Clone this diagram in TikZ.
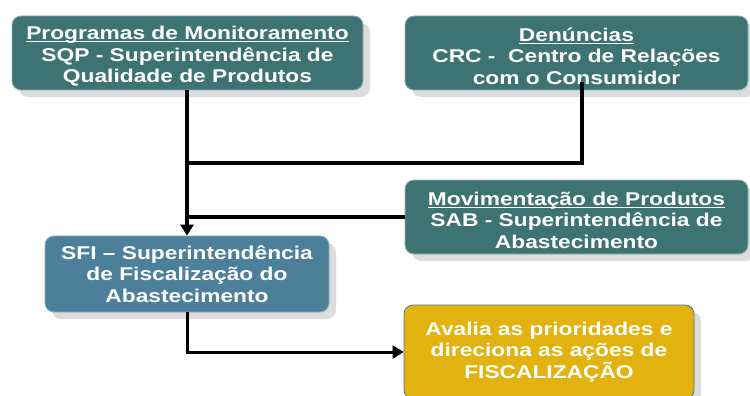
\documentclass[tikz,border=0pt]{standalone}
\usepackage{fontspec}
\setmainfont[FakeStretch=1.23]{Liberation Sans}
\usetikzlibrary{shadows,arrows.meta}
\definecolor{tealbox}{HTML}{3E7373}
\definecolor{tealedge}{HTML}{8DB3B3}
\definecolor{bluebox}{HTML}{4C7F99}
\definecolor{blueedge}{HTML}{86AFC2}
\definecolor{yelbox}{HTML}{E2B30F}
\definecolor{yeledge}{HTML}{4F7A86}
\definecolor{shadowgray}{HTML}{DCDCDC}
\newsavebox{\myulbox}
\newcommand{\myul}[1]{\rule{0pt}{20pt}\sbox{\myulbox}{#1}\smash{\rlap{\rule[-2.2pt]{\wd\myulbox}{0.9pt}}}\usebox{\myulbox}}
\tikzset{
  box/.style={rectangle, rounded corners=9pt, text=white, align=center,
    font=\fontsize{18.5}{21.7}\selectfont\bfseries, inner sep=0pt,
    line width=0.8pt,
    drop shadow={shadow xshift=7pt, shadow yshift=-7pt, fill=shadowgray, opacity=1}},
  tealnode/.style={box, fill=tealbox, draw=tealedge},
  bluenode/.style={box, fill=bluebox, draw=blueedge},
  yelnode/.style={box, fill=yelbox, draw=yeledge},
  conn/.style={line width=3.4pt, black},
  tip/.style={-{Triangle[length=11pt,width=13pt]}}
}
\begin{document}
\begin{tikzpicture}[x=1pt,y=-1pt]
\useasboundingbox (0,0) rectangle (750,396);
\node[tealnode, minimum width=351pt, minimum height=74pt] (sqp) at (187.5,53)
  {\myul{Programas de Monitoramento}\\SQP - Superintendência de\\Qualidade de Produtos};
\node[tealnode, minimum width=343pt, minimum height=74pt] (crc) at (576.5,53)
  {\myul{Denúncias}\\CRC -\ \ Centro de Relações\\com o Consumidor};
\node[tealnode, minimum width=343pt, minimum height=74pt] (sab) at (576.5,217)
  {\myul{Movimentação de Produtos}\\SAB - Superintendência de\\Abastecimento};
\node[bluenode, minimum width=284pt, minimum height=76pt] (sfi) at (187,274)
  {SFI – Superintendência\\de Fiscalização do\\Abastecimento};
\node[yelnode, minimum width=290pt, minimum height=94pt] (fis) at (549,352)
  {Avalia as prioridades e\\direciona as ações de\\FISCALIZAÇÃO};
\coordinate (j1) at (sfi.north |- 0,163);
\coordinate (j2) at (sfi.north |- sab.west);
\coordinate (j3) at (sfi.south |- fis.west);
\draw[conn, tip] (sfi.north |- sqp.south) -- (sfi.north);
\draw[conn] ([xshift=5.5pt,yshift=8pt]crc.south) |- (j1);
\draw[conn] (sab.west) -- (j2);
\draw[conn, tip, line width=3pt] (sfi.south) -- (j3) -- (fis.west);
\end{tikzpicture}
\end{document}
